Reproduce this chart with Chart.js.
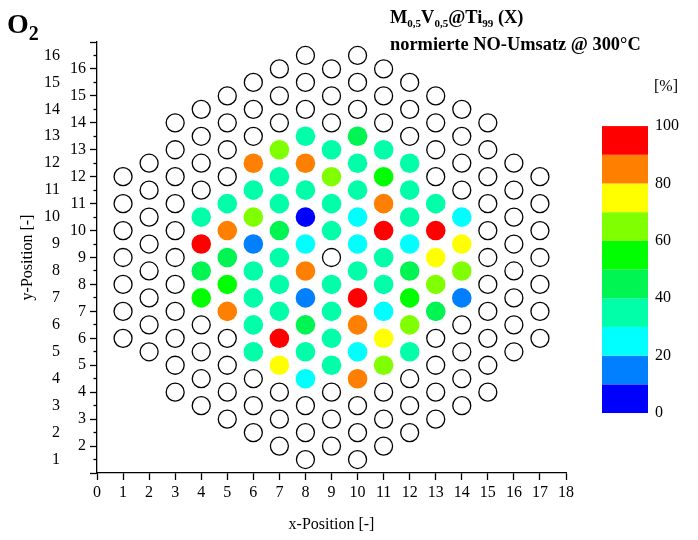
<!DOCTYPE html>
<html>
<head>
<meta charset="utf-8">
<script src="https://cdn.jsdelivr.net/npm/chart.js@4.4.0/dist/chart.umd.min.js"></script>
<style>
  html, body { margin: 0; padding: 0; background: #fff; }
  #chart { display: block; }
</style>
</head>
<body>
<canvas id="chart" width="698" height="540"></canvas>
<script>
// reactor layout: one column per x position, circles every 1.0 in y
const columnX    = [1,   2, 3,   4,  5,    6,  7,    8,  9,    10, 11,   12, 13,   14, 15,   16, 17];
const columnYMin = [5.5, 5, 3.5, 3,  2.5,  2,  1.5,  1,  1.5,  1,  1.5,  2,  2.5,  3,  3.5,  5,  5.5];
const columnYMax = [11.5,12,13.5,14, 14.5, 15, 15.5, 16, 15.5, 16, 15.5, 15, 14.5, 14, 13.5, 12, 11.5];

// measured positions, normierte NO-Umsatz [%]
const pointX = [
  4, 4, 4, 4,
  5, 5, 5, 5, 5,
  6, 6, 6, 6, 6, 6, 6, 6,
  7, 7, 7, 7, 7, 7, 7, 7, 7,
  8, 8, 8, 8, 8, 8, 8, 8, 8, 8,
  9, 9, 9, 9, 9, 9, 9, 9,
  10, 10, 10, 10, 10, 10, 10, 10, 10, 10,
  11, 11, 11, 11, 11, 11, 11, 11, 11,
  12, 12, 12, 12, 12, 12, 12, 12,
  13, 13, 13, 13, 13,
  14, 14, 14, 14
];
const pointY = [
  10, 9, 8, 7,
  10.5, 9.5, 8.5, 7.5, 6.5,
  12, 11, 10, 9, 8, 7, 6, 5,
  12.5, 11.5, 10.5, 9.5, 8.5, 7.5, 6.5, 5.5, 4.5,
  13, 12, 11, 10, 9, 8, 7, 6, 5, 4,
  12.5, 11.5, 10.5, 9.5, 7.5, 6.5, 5.5, 4.5,
  13, 12, 11, 10, 9, 8, 7, 6, 5, 4,
  12.5, 11.5, 10.5, 9.5, 8.5, 7.5, 6.5, 5.5, 4.5,
  12, 11, 10, 9, 8, 7, 6, 5,
  10.5, 9.5, 8.5, 7.5, 6.5,
  10, 9, 8, 7
];
const pointValue = [
  35, 95, 45, 55,
  35, 85, 45, 55, 85,
  85, 35, 65, 15, 35, 35, 35, 35,
  65, 35, 35, 45, 35, 35, 35, 95, 75,
  35, 85, 35, 5, 25, 85, 15, 45, 35, 25,
  35, 65, 35, 35, 35, 35, 35, 35,
  45, 35, 35, 25, 25, 35, 95, 85, 25, 85,
  35, 55, 85, 95, 35, 35, 25, 75, 65,
  35, 35, 35, 25, 45, 55, 65, 35,
  35, 95, 75, 65, 45,
  25, 75, 65, 15
];

const xTicks = [0, 1, 2, 3, 4, 5, 6, 7, 8, 9, 10, 11, 12, 13, 14, 15, 16, 17, 18];
const yTicks = [1, 2, 3, 4, 5, 6, 7, 8, 9, 10, 11, 12, 13, 14, 15, 16];
const colorBarTicks = [0, 20, 40, 60, 80, 100];
const colorBandEdges = [0, 10, 20, 30, 40, 50, 60, 70, 80, 90, 100];
const colorBandColors = ['#0000ff', '#0080ff', '#00ffff', '#00ffa8', '#00f552',
                         '#00ff00', '#80ff00', '#ffff00', '#ff8000', '#ff0000'];

const serif = '"Liberation Serif", "Times New Roman", serif';
const tickFont = { family: serif, size: 16 };
const titleFont = { family: serif, size: 16 };

function bandColor(v) {
    for (let i = 0; i < colorBandColors.length; i++) {
        if (v < colorBandEdges[i + 1]) return colorBandColors[i];
    }
    return colorBandColors[colorBandColors.length - 1];
}

// empty reactor slots (everything not measured)
const emptyPoints = [];
columnX.forEach((x, i) => {
    for (let y = columnYMin[i]; y <= columnYMax[i]; y += 1) {
        const measured = pointX.some((px, j) => px === x && pointY[j] === y);
        if (!measured) emptyPoints.push({ x: x, y: y });
    }
});
const measuredPoints = pointX.map((x, i) => ({ x: x, y: pointY[i] }));

// inner y axis: ticks every 0.5
const innerYTicks = [];
yTicks.forEach(v => { innerYTicks.push(v - 0.5, v); });
innerYTicks.push(yTicks[yTicks.length - 1] + 0.5);

const isWhole = v => Math.abs(v - Math.round(v)) < 1e-9;

// titles with subscripts
function drawRuns(ctx, runs, x, y, size, subSize) {
    runs.forEach(r => {
        const sub = r[1];
        ctx.font = 'bold ' + (sub ? subSize : size) + 'px ' + serif;
        ctx.fillText(r[0], x, sub ? y + 4 : y);
        x += ctx.measureText(r[0]).width;
    });
}

const titlePlugin = {
    id: 'titles',
    afterDraw(chart) {
        const ctx = chart.ctx;
        ctx.save();
        ctx.fillStyle = '#000';
        ctx.textBaseline = 'alphabetic';
        ctx.textAlign = 'left';
        ctx.font = 'bold 28px ' + serif;
        ctx.fillText('O', 7, 33);
        const ow = ctx.measureText('O').width;
        ctx.font = 'bold 20px ' + serif;
        ctx.fillText('2', 7 + ow, 40);

        drawRuns(ctx, [['M', false], ['0,5', true], ['V', false], ['0,5', true],
                       ['@Ti', false], ['99', true], [' (X)', false]], 390, 23, 18.4, 11);
        ctx.font = 'bold 18.4px ' + serif;
        ctx.fillText('normierte NO-Umsatz @ 300°C', 390, 50);
        ctx.restore();
    }
};

const colorBarPlugin = {
    id: 'colorBar',
    afterDraw(chart) {
        const s = chart.scales.cbar;
        const ctx = chart.ctx;
        const x0 = s.left + 36, w = 46;
        ctx.save();
        colorBandColors.forEach((c, i) => {
            const yTop = s.getPixelForValue(colorBandEdges[i + 1]);
            const yBot = s.getPixelForValue(colorBandEdges[i]);
            ctx.fillStyle = c;
            ctx.fillRect(x0, yTop, w, yBot - yTop);
        });
        ctx.fillStyle = '#000';
        ctx.font = '16px ' + serif;
        ctx.textAlign = 'left';
        ctx.textBaseline = 'middle';
        ctx.fillText('[%]', s.left + 88, s.getPixelForValue(100) - 39);
        ctx.restore();
    }
};

new Chart(document.getElementById('chart'), {
    type: 'scatter',
    data: {
        datasets: [{
            data: emptyPoints,
            pointRadius: 9,
            pointBackgroundColor: '#fff',
            pointBorderColor: '#000',
            pointBorderWidth: 1.3,
            clip: false
        }, {
            data: measuredPoints,
            pointRadius: 9.8,
            pointBackgroundColor: pointValue.map(bandColor),
            pointBorderWidth: 0,
            clip: false
        }]
    },
    options: {
        responsive: false,
        animation: false,
        events: [],
        layout: { padding: { top: 42, left: 0, right: 0, bottom: 0 } },
        plugins: {
            legend: { display: false },
            tooltip: { enabled: false },
            title: { display: false }
        },
        scales: {
            x: {
                type: 'linear',
                position: 'bottom',
                min: 0,
                max: 18,
                afterBuildTicks: s => { s.ticks = xTicks.map(v => ({ value: v })); },
                afterFit: s => { s.height = 67; },
                ticks: { autoSkip: false, maxRotation: 0, color: '#000', font: tickFont, padding: 3 },
                grid: { drawOnChartArea: false, tickLength: 7, tickWidth: 1.3, tickColor: '#000' },
                border: { color: '#000', width: 1.3 },
                title: { display: true, text: 'x-Position [-]', color: '#000', font: titleFont,
                         padding: { top: 0, bottom: 6 } }
            },
            y: {
                type: 'linear',
                position: 'left',
                weight: 0,
                min: 0.5,
                max: 16.5,
                afterBuildTicks: s => { s.ticks = innerYTicks.map(v => ({ value: v })); },
                afterFit: s => { s.width = 37; },
                ticks: {
                    autoSkip: false, color: '#000', font: tickFont, padding: 4,
                    callback: v => (!isWhole(v) && v > 1 && v < 16) ? String(v + 0.5) : ''
                },
                grid: {
                    drawOnChartArea: false, tickLength: 7, tickWidth: 1.3, tickColor: '#000',
                    tickBorderDash: c => (c.tick && isWhole(c.tick.value)) ? [3.5, 3.5] : [],
                    tickBorderDashOffset: c => (c.tick && isWhole(c.tick.value)) ? 3.5 : 0
                },
                border: { color: '#000', width: 1.3 }
            },
            yOuter: {
                type: 'linear',
                position: 'left',
                weight: 1,
                min: 0.5,
                max: 16.5,
                afterBuildTicks: s => { s.ticks = yTicks.map(v => ({ value: v })); },
                afterFit: s => { s.width = 60; },
                ticks: { autoSkip: false, color: '#000', font: tickFont, padding: 0 },
                grid: { display: false, drawTicks: false, tickLength: 0 },
                border: { display: false },
                title: { display: true, text: 'y-Position [-]', color: '#000', font: titleFont,
                         padding: { top: 18, bottom: 0 } }
            },
            cbar: {
                type: 'linear',
                position: 'right',
                min: -20.9,
                max: 129.3,
                afterBuildTicks: s => { s.ticks = colorBarTicks.map(v => ({ value: v })); },
                afterFit: s => {
                    s.width = 132;
                    s.paddingTop = 0;
                    s.paddingBottom = 0;
                },
                ticks: { autoSkip: false, color: '#000', font: tickFont, padding: 89 },
                grid: { display: false, drawTicks: false, tickLength: 0 },
                border: { display: false }
            }
        }
    },
    plugins: [titlePlugin, colorBarPlugin]
});
</script>
</body>
</html>
